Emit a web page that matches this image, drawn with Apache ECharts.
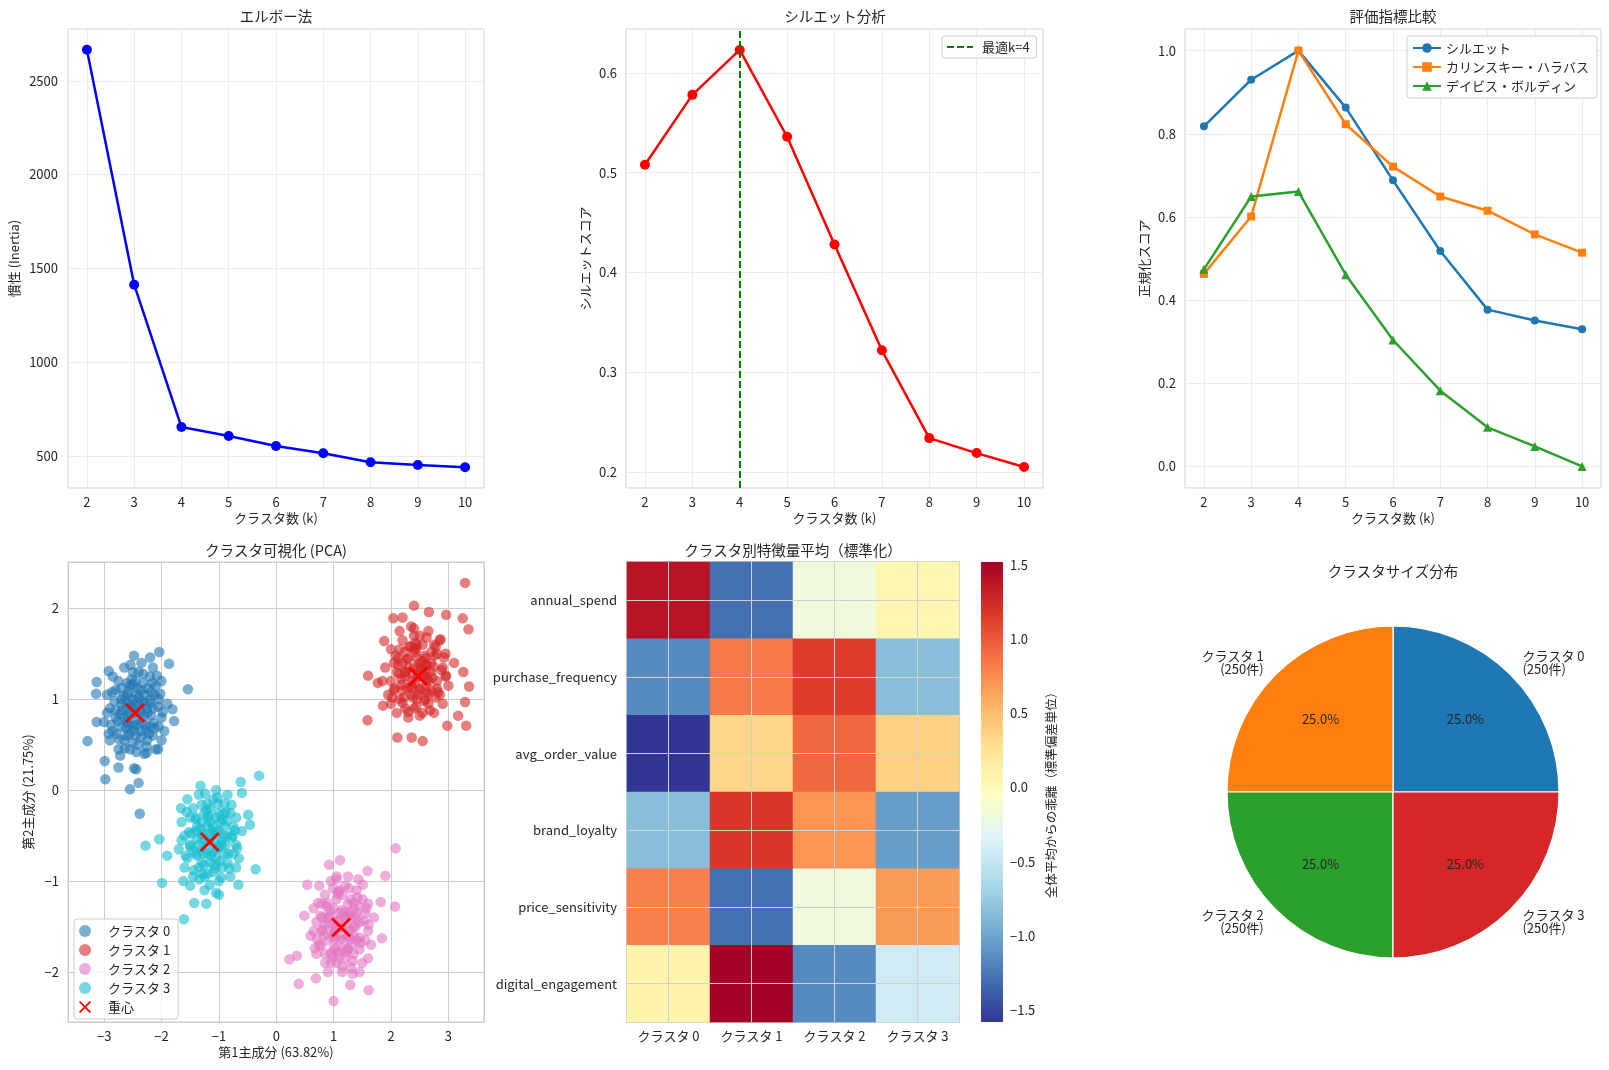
<!DOCTYPE html>
<html><head><meta charset="utf-8">
<script src="https://cdn.jsdelivr.net/npm/echarts@6/dist/echarts.min.js"></script>
<style>html,body{margin:0;padding:0;background:#fff}#c{width:1609px;height:1070px}</style>
</head><body><div id="c"></div>
<script>
const kValues=[2,3,4,5,6,7,8,9,10];
const inertia=[2665,1413,654,606,553,514,466,452,440];
const silhouette=[0.508,0.578,0.623,0.536,0.428,0.322,0.234,0.219,0.205];
const silNorm=[0.818,0.930,1.0,0.863,0.688,0.518,0.377,0.351,0.330];
const chNorm=[0.463,0.601,1.0,0.823,0.721,0.649,0.615,0.558,0.514];
const dbNorm=[0.474,0.649,0.661,0.461,0.304,0.182,0.094,0.048,0.0];
const optimalK=4;
const clusterNames=['クラスタ 0','クラスタ 1','クラスタ 2','クラスタ 3'];
const featureNames=['annual_spend','purchase_frequency','avg_order_value','brand_loyalty','price_sensitivity','digital_engagement'];
const heatValues=[
 [1.40,-1.29,-0.19,0.06],
 [-1.15,0.84,1.15,-0.84],
 [-1.58,0.34,0.93,0.37],
 [-0.84,1.18,0.71,-1.05],
 [0.81,-1.29,-0.19,0.68],
 [0.09,1.52,-1.15,-0.43]
];
const clusterSizes=[250,250,250,250];
const colorbarTicks=[-1.5,-1,-0.5,0,0.5,1,1.5];
const centroids=[[-2.46,0.85],[2.47,1.25],[1.13,-1.51],[-1.16,-0.57]];
const pca0=[[-3.29,0.54],[-2.98,0.12],[-2.55,0.01],[-2.38,-0.26],[-2.40,0.08],[-2.48,0.24],[-2.44,0.23],[-2.75,0.25],[-2.99,0.32],[-1.54,1.11],[-2.04,1.52],[-2.48,1.48],[-3.13,1.19],[-2.92,1.31],[-3.14,1.06],[-3.13,0.75],[-1.78,0.76],[-1.87,1.39],[-2.20,1.46],[-1.81,0.89],[-2.06,0.45],[-2.26,0.41],[-2.72,0.38],
[-2.46,0.85],[-2.3,0.95],[-2.6,0.75],[-2.7,0.95],[-2.2,0.7],[-2.35,1.1],[-2.55,1.15],[-2.8,0.8],[-2.15,0.9],[-2.45,0.6],[-2.65,0.55],[-2.25,0.55],[-2.9,0.9],[-2.0,0.8],[-2.1,1.15],[-2.4,1.3],[-2.75,1.2],[-2.5,1.0],[-2.35,0.75],[-2.6,0.9],[-2.85,0.65],[-2.05,1.0],[-2.2,1.25],[-2.65,1.35],[-2.3,0.4],[-2.55,0.45],[-2.95,1.05],[-1.95,0.65],[-2.4,0.95],[-2.7,0.7],[-2.15,0.6],[-2.5,0.7],[-2.8,1.1],[-2.0,1.2],[-2.35,1.4],[-2.6,1.05],[-2.25,0.85],[-2.45,1.2],[-2.9,0.55],[-2.1,0.45],[-2.75,0.45],[-2.3,1.05],[-2.55,0.85],[-2.4,0.5],[-1.9,0.95],[-3.0,0.75],[-2.65,0.8],[-2.2,1.0],[-2.5,1.3],[-2.85,1.25],[-2.05,0.7],[-2.35,0.65],[-2.6,0.6],[-2.45,1.05],[-2.15,1.35],[-2.7,1.0],[-2.25,0.9],[-2.95,0.85],[-2.0,0.55],[-2.55,0.95],
[-2.42,0.78],[-2.52,0.92],[-2.38,0.88],[-2.62,0.98],[-2.28,0.72],[-2.48,0.66],[-2.58,1.08],[-2.32,1.18],[-2.18,0.82],[-2.72,0.84],[-2.12,1.05],[-2.78,0.62],[-2.42,1.12],[-2.62,0.68],[-2.22,0.62],
[-2.58,0.72],[-2.68,0.88],[-2.34,0.98],[-2.14,0.74],[-2.24,1.12],[-2.52,1.22],[-2.82,0.98],[-2.88,0.72],[-2.06,0.92],[-2.36,0.58],[-2.5,0.52],[-2.7,1.12],[-2.44,0.72],[-2.3,0.82],[-2.6,1.18],[-2.18,1.08],[-2.76,0.76],[-2.4,1.02],[-2.56,0.62],[-2.02,1.06],[-2.64,0.46],[-2.32,1.28],[-2.86,1.08],[-2.12,0.68],[-2.48,0.94],[-2.26,0.48],[-2.92,0.62],[-2.08,1.26],[-2.54,1.38],[-2.74,0.56],[-2.36,0.86],[-2.66,1.04],[-2.2,0.96],[-2.44,0.42],[-2.8,0.88],[-1.98,0.86],[-2.58,0.8],[-2.28,0.66],[-2.5,1.16],[-2.16,1.18]];
const pca1=[[3.29,2.28],[2.40,2.03],[2.04,1.89],[2.20,1.90],[2.66,1.96],[2.96,1.93],[3.25,1.89],[3.35,1.77],[1.88,1.64],[1.60,1.26],[1.59,0.77],[2.11,0.58],[2.36,0.58],[2.55,0.54],[2.98,0.71],[3.31,0.71],[3.36,1.14],[3.29,0.97],[3.17,0.82],[3.26,1.30],[1.77,1.18],[1.86,0.93],
[2.47,1.25],[2.3,1.35],[2.6,1.15],[2.7,1.4],[2.2,1.1],[2.4,1.55],[2.55,1.6],[2.8,1.2],[2.1,1.3],[2.45,1.0],[2.65,0.95],[2.25,0.9],[2.9,1.35],[2.0,1.2],[2.15,1.55],[2.4,1.7],[2.75,1.6],[2.5,1.4],[2.35,1.15],[2.6,1.3],[2.85,1.05],[2.05,1.4],[2.2,1.65],[2.65,1.75],[2.3,0.8],[2.55,0.85],[2.95,1.5],[1.95,1.05],[2.4,1.35],[2.7,1.1],[2.15,1.0],[2.5,1.1],[2.8,1.5],[2.0,1.55],[2.35,1.8],[2.6,1.45],[2.25,1.25],[2.45,1.6],[2.9,0.95],[2.1,0.85],[2.75,0.85],[2.3,1.45],[2.55,1.25],[2.4,0.9],[1.9,1.35],[3.0,1.15],[2.65,1.2],[2.2,1.4],[2.5,1.7],[2.85,1.65],[2.05,1.1],[2.35,1.05],[2.6,1.0],[2.45,1.45],[2.15,1.75],[2.7,1.3],[2.25,1.3],[2.95,1.25],[2.0,0.95],[2.55,1.35],[3.1,1.4],[1.85,1.2],
[2.42,1.18],[2.52,1.32],[2.38,1.28],[2.62,1.38],[2.28,1.12],[2.48,1.06],[2.58,1.48],[2.32,1.58],[2.18,1.22],[2.72,1.24],[2.12,1.45],[2.78,1.02],[2.42,1.52],[2.62,1.08],[2.22,1.02],
[2.35,1.12],[2.25,1.3],[2.6,1.38],[2.8,1.12],[2.7,1.52],[2.42,1.62],[2.12,1.38],[2.06,1.12],[2.88,1.32],[2.58,0.98],[2.44,0.92],[2.24,1.52],[2.5,1.12],[2.64,1.22],[2.34,1.58],[2.76,1.48],[2.18,1.16],[2.54,1.42],[2.38,1.02],[2.92,1.46],[2.3,0.86],[2.62,1.68],[2.08,1.48],[2.82,1.08],[2.46,1.34],[2.68,0.88],[2.02,1.02],[2.86,1.66],[2.4,1.78],[2.2,0.96],[2.58,1.26],[2.28,1.44],[2.74,1.36],[2.5,0.82],[2.14,1.28],[2.96,1.26],[2.36,1.2],[2.66,1.06],[2.44,1.56],[2.78,1.58]];
const pca2=[[2.08,-0.64],[1.90,-0.94],[2.07,-1.28],[1.84,-1.63],[1.00,-2.32],[1.61,-2.20],[1.29,-2.14],[0.39,-2.13],[0.23,-1.86],[0.36,-1.82],[0.54,-1.04],[0.92,-0.82],[1.11,-0.77],[1.59,-0.89],[0.69,-2.07],[1.33,-2.02],[0.49,-1.38],[1.82,-1.23],
[1.13,-1.51],[1.3,-1.4],[1.0,-1.6],[0.9,-1.4],[1.4,-1.65],[1.25,-1.25],[1.05,-1.2],[0.8,-1.55],[1.45,-1.45],[1.15,-1.75],[0.95,-1.8],[1.35,-1.8],[0.7,-1.45],[1.6,-1.55],[1.5,-1.2],[1.2,-1.05],[0.85,-1.15],[1.1,-1.35],[1.25,-1.6],[1.0,-1.45],[0.75,-1.7],[1.55,-1.35],[1.4,-1.1],[0.95,-1.0],[1.3,-1.95],[1.05,-1.9],[0.65,-1.3],[1.65,-1.7],[1.2,-1.4],[0.9,-1.65],[1.45,-1.75],[1.1,-1.65],[0.8,-1.25],[1.6,-1.25],[1.25,-0.95],[1.0,-1.3],[1.35,-1.5],[1.15,-1.15],[0.7,-1.8],[1.5,-1.9],[0.85,-1.9],[1.3,-1.2],[1.05,-1.5],[1.2,-1.85],[1.7,-1.4],[0.6,-1.6],[0.95,-1.55],[1.4,-1.35],[1.1,-1.1],[0.75,-1.05],[1.55,-1.65],[1.25,-1.75],[1.0,-1.75],[1.35,-1.3],[1.05,-0.95],[0.8,-1.4],[1.35,-1.6],[0.65,-1.55],[1.6,-1.85],[0.9,-2.0],[1.15,-2.0],[1.45,-2.0],
[1.08,-1.44],[1.18,-1.58],[1.04,-1.54],[1.28,-1.64],[0.94,-1.38],[1.14,-1.32],[1.24,-1.74],[0.98,-1.84],[0.84,-1.48],[1.38,-1.5],[0.78,-1.71],[1.44,-1.28],[1.08,-1.78],[1.28,-1.34],[0.88,-1.28],
[1.01,-1.64],[0.91,-1.46],[1.25,-1.38],[1.45,-1.62],[1.35,-1.24],[1.07,-1.14],[0.77,-1.38],[0.71,-1.64],[1.53,-1.44],[1.23,-1.78],[1.09,-1.84],[0.89,-1.24],[1.15,-1.64],[1.29,-1.54],[0.99,-1.08],[1.41,-1.18],[0.83,-1.6],[1.19,-1.34],[1.03,-1.74],[1.57,-1.3],[0.95,-1.9],[1.27,-1.08],[0.73,-1.24],[1.47,-1.68],[1.11,-1.42],[1.33,-1.88],[0.67,-1.74],[1.51,-1.04],[1.05,-0.98],[0.85,-1.8],[1.23,-1.5],[0.93,-1.32],[1.39,-1.4],[1.15,-1.94],[0.79,-1.54],[1.61,-1.48],[1.01,-1.56],[1.31,-1.7],[1.09,-1.12],[1.43,-0.98]];
const pca3=[[-0.30,0.16],[-0.62,0.09],[-1.32,0.05],[-2.28,-0.61],[-1.99,-1.02],[-1.61,-1.42],[-1.43,-1.24],[-1.22,-1.25],[-0.36,-0.87],[-0.46,-0.38],[-0.66,-1.04],[-2.04,-0.54],[-1.66,-0.20],[-1.90,-0.72],[-1.05,-1.13],[-0.49,-0.27],[-0.60,-0.03],
[-1.16,-0.57],[-1.0,-0.45],[-1.3,-0.65],[-1.4,-0.45],[-0.9,-0.7],[-1.05,-0.3],[-1.25,-0.25],[-1.5,-0.6],[-0.85,-0.5],[-1.15,-0.8],[-1.35,-0.85],[-0.95,-0.85],[-1.6,-0.5],[-0.7,-0.6],[-0.8,-0.25],[-1.1,-0.1],[-1.45,-0.2],[-1.2,-0.4],[-1.05,-0.65],[-1.3,-0.5],[-1.55,-0.75],[-0.75,-0.4],[-0.9,-0.15],[-1.35,-0.05],[-1.0,-1.0],[-1.25,-0.95],[-1.65,-0.35],[-0.65,-0.75],[-1.1,-0.45],[-1.4,-0.7],[-0.85,-0.8],[-1.2,-0.7],[-1.5,-0.3],[-0.7,-0.3],[-1.05,0.0],[-1.3,-0.35],[-0.95,-0.55],[-1.15,-0.2],[-1.6,-0.85],[-0.8,-0.95],[-1.45,-0.95],[-1.0,-0.25],[-1.25,-0.55],[-1.1,-0.9],[-0.6,-0.45],[-1.7,-0.65],[-1.35,-0.6],[-0.9,-0.4],[-1.2,-0.15],[-1.55,-0.1],[-0.75,-0.7],[-1.05,-0.75],[-1.3,-0.8],[-1.15,-0.35],[-0.85,-0.05],[-1.4,-0.3],[-0.95,-0.6],[-1.65,-0.55],[-0.7,-0.85],[-1.25,-1.1],[-1.0,-1.15],[-1.5,-1.05],
[-1.12,-0.5],[-1.02,-0.64],[-1.22,-0.6],[-0.98,-0.35],[-1.32,-0.42],[-1.08,-0.82],[-0.88,-0.6],[-1.18,-0.28],[-1.38,-0.72],[-0.92,-0.26],[-1.28,-0.92],[-0.78,-0.52],[-1.48,-0.48],[-1.12,-0.68],[-1.02,-0.15],
[-1.28,-0.7],[-1.38,-0.54],[-1.04,-0.46],[-0.84,-0.7],[-0.94,-0.32],[-1.22,-0.22],[-1.52,-0.46],[-1.58,-0.72],[-0.76,-0.5],[-1.06,-0.86],[-1.2,-0.92],[-1.4,-0.32],[-1.14,-0.72],[-1.0,-0.62],[-1.3,-0.16],[-0.88,-0.24],[-1.46,-0.66],[-1.1,-0.4],[-1.26,-0.82],[-0.72,-0.44],[-1.34,-0.98],[-1.02,-0.08],[-1.56,-0.24],[-0.82,-0.86],[-1.18,-0.48],[-0.96,-0.96],[-1.62,-1.0],[-0.78,-0.16],[-1.24,-0.04],[-1.44,-0.88],[-1.08,-0.56],[-1.38,-0.4],[-0.92,-0.5],[-1.16,-1.04],[-1.5,-0.62],[-0.68,-0.64],[-1.28,-0.48],[-0.98,-0.78],[-1.2,-0.3],[-0.86,-0.34]];
const pcaSets=[pca0,pca1,pca2,pca3];
const scatterColors=['#1f77b4','#d62728','#e377c2','#17becf'];
const pieColors=['#1f77b4','#ff7f0e','#2ca02c','#d62728'];

const FONT='"Noto Sans CJK JP","Noto Sans",sans-serif';
const TXT='#262626';
const FS=13;
const chart=echarts.init(document.getElementById('c'),null,{renderer:'canvas'});
const cbMin=Math.min(...heatValues.flat()), cbMax=Math.max(...heatValues.flat());
const rdylbu_r=['#313695','#4575b4','#74add1','#abd9e9','#e0f3f8','#ffffbf','#fee090','#fdae61','#f46d43','#d73027','#a50026'];
const oneDec=v=>(v<0?'\u2212':'')+Math.abs(v).toFixed(1);
const intMinus=v=>(v<0?'\u2212':'')+Math.abs(v);
const lbl=(extra)=>Object.assign({color:TXT,fontSize:FS,fontFamily:FONT,margin:8,showMinLabel:false,showMaxLabel:false,formatter:v=>String(v)},extra||{});
const nameSty={color:TXT,fontSize:FS,fontFamily:FONT};
const lightSplit={show:true,lineStyle:{color:'#ececec',width:1}};
const darkSplit={show:true,lineStyle:{color:'#cccccc',width:1}};
const gridBase={show:true,borderColor:'#cccccc',borderWidth:1,backgroundColor:'#fff',containLabel:false};
const kAxis=(idx)=>({type:'value',gridIndex:idx,min:1.6,max:10.4,splitNumber:9,name:'クラスタ数 (k)',nameLocation:'middle',nameGap:24,nameTextStyle:nameSty,axisLine:{show:false},axisTick:{show:false},axisLabel:lbl(),splitLine:lightSplit});
const xSymbol='path://M2,0 L10,8 L18,0 L20,2 L12,10 L20,18 L18,20 L10,12 L2,20 L0,18 L8,10 L0,2 Z';

const heatData=[];
featureNames.forEach((f,r)=>clusterNames.forEach((c,ci)=>heatData.push([ci,r,heatValues[r][ci]])));
const pieData=clusterNames.map((n,i)=>({name:n,value:clusterSizes[i],itemStyle:{color:pieColors[i]}}));

const titles=[['エルボー法',276,16],['シルエット分析',835,16],['評価指標比較',1393,16],['クラスタ可視化 (PCA)',276,550],['クラスタ別特徴量平均（標準化）',793,550],['クラスタサイズ分布',1393,571]];
const legText={fontSize:FS,color:TXT,fontFamily:FONT,lineHeight:14};

const option={
 animation:false,
 textStyle:{fontFamily:FONT},
 graphic:titles.map(t=>({type:'text',x:t[1],y:t[2],silent:true,style:{text:t[0],fill:TXT,font:'14.5px '+FONT,textAlign:'center',textVerticalAlign:'middle',verticalAlign:'middle'}})),
 grid:[
  Object.assign({left:68,top:29,width:416,height:459},gridBase),
  Object.assign({left:626,top:29,width:417,height:459},gridBase),
  Object.assign({left:1185,top:29,width:416,height:459},gridBase),
  Object.assign({left:68,top:562,width:416,height:460},gridBase),
  Object.assign({},gridBase,{left:627,top:562,width:332,height:460,borderWidth:2}),
  {left:981,top:562,width:22,height:460,show:false}
 ],
 xAxis:[
  kAxis(0),kAxis(1),kAxis(2),
  {type:'value',gridIndex:3,min:-3.63,max:3.62,splitNumber:7,name:'第1主成分 (63.82%)',nameLocation:'middle',nameGap:24,nameTextStyle:nameSty,axisLine:{show:false},axisTick:{show:false},axisLabel:lbl({formatter:intMinus}),splitLine:darkSplit},
  {type:'category',gridIndex:4,data:clusterNames,axisLine:{show:false},axisTick:{show:false},axisLabel:{color:TXT,fontSize:FS,fontFamily:FONT,margin:8},splitLine:{show:false}},
  {type:'value',gridIndex:5,min:0,max:1,show:false}
 ],
 yAxis:[
  {type:'value',gridIndex:0,min:329,max:2776,splitNumber:5,name:'慣性 (Inertia)',nameLocation:'middle',nameGap:47,nameTextStyle:nameSty,axisLine:{show:false},axisTick:{show:false},axisLabel:lbl({margin:10}),splitLine:lightSplit},
  {type:'value',gridIndex:1,min:0.184,max:0.644,splitNumber:5,name:'シルエットスコア',nameLocation:'middle',nameGap:34,nameTextStyle:nameSty,axisLine:{show:false},axisTick:{show:false},axisLabel:lbl({margin:9,formatter:oneDec}),splitLine:lightSplit},
  {type:'value',gridIndex:2,min:-0.052,max:1.052,splitNumber:5,name:'正規化スコア',nameLocation:'middle',nameGap:34,nameTextStyle:nameSty,axisLine:{show:false},axisTick:{show:false},axisLabel:lbl({margin:9,formatter:oneDec}),splitLine:lightSplit},
  {type:'value',gridIndex:3,min:-2.55,max:2.51,splitNumber:5,name:'第2主成分 (21.75%)',nameLocation:'middle',nameGap:33,nameTextStyle:nameSty,axisLine:{show:false},axisTick:{show:false},axisLabel:lbl({margin:9,formatter:intMinus}),splitLine:darkSplit},
  {type:'category',gridIndex:4,data:featureNames,inverse:true,axisLine:{show:false},axisTick:{show:false},axisLabel:{color:TXT,fontSize:FS,fontFamily:FONT,margin:10},splitLine:{show:false}},
  {type:'value',gridIndex:5,min:cbMin,max:cbMax,position:'right',name:'全体平均からの乖離（標準偏差単位）',nameLocation:'middle',nameRotate:90,nameGap:42,nameTextStyle:{color:TXT,fontSize:12.5,fontFamily:FONT},axisLine:{show:false},splitLine:{show:false},
   axisTick:{show:true,length:4,lineStyle:{color:TXT,width:1},customValues:colorbarTicks},
   axisLabel:{color:TXT,fontSize:FS,fontFamily:FONT,margin:7,formatter:oneDec,customValues:colorbarTicks}}
 ],
 visualMap:[{type:'continuous',show:false,min:cbMin,max:cbMax,seriesIndex:11,dimension:2,inRange:{color:rdylbu_r}}],
 legend:[
  {data:['最適k=4'],left:942,top:36,orient:'vertical',selectedMode:false,itemWidth:26,itemHeight:12,padding:[4,7,4,4],borderColor:'#cccccc',borderWidth:1,borderRadius:3,backgroundColor:'#fff',itemStyle:{opacity:0},textStyle:Object.assign({padding:[0,0,0,4]},legText)},
  {data:['シルエット','カリンスキー・ハラバス','デイビス・ボルディン'],left:1407,top:36,orient:'vertical',selectedMode:false,itemWidth:28,itemHeight:12,itemGap:5,padding:[5,8,5,5],borderColor:'#cccccc',borderWidth:1,borderRadius:3,backgroundColor:'#fff',textStyle:legText},
  {data:clusterNames.concat(['重心']),left:74,top:919,orient:'vertical',selectedMode:false,itemWidth:26,itemHeight:12,itemGap:5,padding:[5,8,5,5],borderColor:'#cccccc',borderWidth:1,borderRadius:3,backgroundColor:'rgba(255,255,255,0.8)',textStyle:Object.assign({},legText,{padding:[0,0,0,5]})}
 ],
 series:[
  {type:'line',name:'elbow',xAxisIndex:0,yAxisIndex:0,data:kValues.map((k,i)=>[k,inertia[i]]),symbol:'circle',symbolSize:10,lineStyle:{color:'#0000ff',width:2.5},itemStyle:{color:'#0000ff'}},
  {type:'line',name:'silhouette',xAxisIndex:1,yAxisIndex:1,data:kValues.map((k,i)=>[k,silhouette[i]]),symbol:'circle',symbolSize:10,lineStyle:{color:'#ff0000',width:2.5},itemStyle:{color:'#ff0000'}},
  {type:'line',name:'最適k=4',xAxisIndex:1,yAxisIndex:1,data:[],symbol:'none',lineStyle:{color:'#008000',width:2,type:[7,3]},itemStyle:{color:'#008000'},
   markLine:{silent:true,symbol:'none',label:{show:false},lineStyle:{color:'#008000',width:2,type:[7,3]},data:[{xAxis:optimalK}]}},
  {type:'line',name:'シルエット',xAxisIndex:2,yAxisIndex:2,data:kValues.map((k,i)=>[k,silNorm[i]]),symbol:'circle',symbolSize:8,lineStyle:{color:'#1f77b4',width:2.5},itemStyle:{color:'#1f77b4'}},
  {type:'line',name:'カリンスキー・ハラバス',xAxisIndex:2,yAxisIndex:2,data:kValues.map((k,i)=>[k,chNorm[i]]),symbol:'rect',symbolSize:8,lineStyle:{color:'#ff7f0e',width:2.5},itemStyle:{color:'#ff7f0e'}},
  {type:'line',name:'デイビス・ボルディン',xAxisIndex:2,yAxisIndex:2,data:kValues.map((k,i)=>[k,dbNorm[i]]),symbol:'triangle',symbolSize:9,lineStyle:{color:'#2ca02c',width:2.5},itemStyle:{color:'#2ca02c'}}
 ].concat(pcaSets.map((pts,i)=>({type:'scatter',name:clusterNames[i],xAxisIndex:3,yAxisIndex:3,data:pts,symbol:'circle',symbolSize:10.5,itemStyle:{color:scatterColors[i],opacity:0.6}})))
 .concat([
  {type:'scatter',name:'重心',xAxisIndex:3,yAxisIndex:3,data:centroids,symbol:xSymbol,symbolSize:20,itemStyle:{color:'#ff0000',opacity:1},z:5},
  {type:'heatmap',xAxisIndex:4,yAxisIndex:4,data:heatData,z:1,
   markLine:{silent:true,symbol:'none',label:{show:false},lineStyle:{color:'#d0d0d0',width:1,type:'solid'},
    data:clusterNames.map((c,i)=>({xAxis:i})).concat(featureNames.map((f,i)=>({yAxis:i})))}},
  {type:'custom',xAxisIndex:5,yAxisIndex:5,silent:true,data:[[0,cbMin,1,cbMax]],
   renderItem:(params,api)=>{
     const p0=api.coord([api.value(0),api.value(3)]);
     const p1=api.coord([api.value(2),api.value(1)]);
     const stops=rdylbu_r.slice().reverse().map((c,i,a)=>({offset:i/(a.length-1),color:c}));
     return {type:'rect',shape:{x:p0[0],y:p0[1],width:p1[0]-p0[0],height:p1[1]-p0[1]},style:{fill:new echarts.graphic.LinearGradient(0,0,0,1,stops)}};
   }},
  {type:'pie',center:[1393,792],radius:166,startAngle:0,clockwise:false,avoidLabelOverlap:false,silent:true,
   data:pieData,itemStyle:{borderColor:'#fff',borderWidth:1.2},
   label:{show:true,position:'outside',formatter:p=>p.name+'\n('+p.value+'件)',color:TXT,fontSize:FS,fontFamily:FONT,lineHeight:13,distanceToLabelLine:0},
   labelLine:{show:false,length:17,length2:0}},
  {type:'pie',center:[1393,792],radius:199,startAngle:0,clockwise:false,avoidLabelOverlap:false,silent:true,
   data:clusterNames.map((n,i)=>({name:n+' ',value:clusterSizes[i]})),itemStyle:{color:'rgba(0,0,0,0)',borderWidth:0},
   label:{show:true,position:'inside',formatter:p=>p.percent.toFixed(1)+'%',color:TXT,fontSize:FS,fontFamily:FONT},labelLine:{show:false}}
 ])
};
chart.setOption(option);
</script></body></html>
